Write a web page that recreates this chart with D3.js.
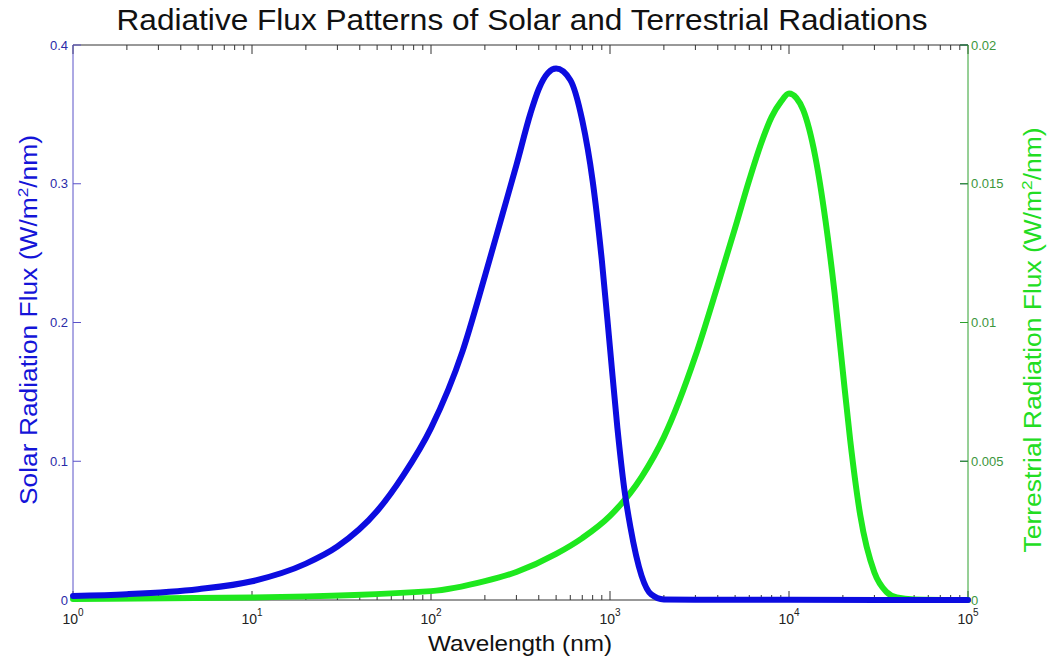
<!DOCTYPE html>
<html>
<head>
<meta charset="utf-8">
<script src="https://cdn.jsdelivr.net/npm/d3@7"></script>
<style>
  html, body { margin: 0; padding: 0; background: #fff; }
  svg { display: block; font-family: "Liberation Sans", Arial, sans-serif; }
</style>
</head>
<body>
<svg id="chart" width="1055" height="659"></svg>
<script>
// Solar spectrum: wavelength (nm) and flux (W/m^2/nm), left axis
const solarWavelength = [1, 2, 5, 10, 20, 30, 50, 70, 100, 150, 200, 250, 300, 360, 400, 450, 500, 600, 700, 800, 900, 1000, 1100, 1200, 1300, 1500, 1700, 2000, 3000, 10000, 100000];
const solarFlux = [0.0029, 0.0042, 0.0078, 0.0135, 0.0262, 0.0385, 0.0641, 0.0898, 0.1239, 0.1792, 0.2334, 0.2774, 0.3134, 0.351, 0.3683, 0.3798, 0.383, 0.3748, 0.3456, 0.302, 0.245, 0.1816, 0.124, 0.0807, 0.0526, 0.0176, 0.004, 0.0004, 0.0002, 0.0001, 0];

// Terrestrial spectrum: wavelength (nm) and flux (W/m^2/nm), right axis
const terrWavelength = [1, 10, 100, 200, 300, 500, 700, 1000, 1500, 2000, 3000, 4000, 5000, 6000, 7000, 8000, 9000, 10000, 11000, 12000, 14000, 16000, 18000, 20000, 22000, 25000, 30000, 35000, 40000, 50000, 100000];
const terrFlux = [0.00004, 0.00009, 0.00032, 0.00068, 0.00101, 0.00166, 0.00223, 0.00303, 0.00443, 0.00587, 0.00879, 0.01135, 0.01341, 0.01514, 0.01647, 0.01741, 0.01795, 0.01825, 0.01809, 0.01766, 0.0160, 0.01366, 0.01103, 0.00822, 0.00573, 0.00306, 0.00099, 0.00029, 0.00009, 0.00002, 0];

// Axis ticks
const xDecades = [0, 1, 2, 3, 4, 5];
const leftTicks = [0, 0.1, 0.2, 0.3, 0.4];
const leftTickLabels = ["0", "0.1", "0.2", "0.3", "0.4"];
const rightTicks = [0, 0.005, 0.01, 0.015, 0.02];
const rightTickLabels = ["0", "0.005", "0.01", "0.015", "0.02"];

const titleText = "Radiative Flux Patterns of Solar and Terrestrial Radiations";
const xLabelText = "Wavelength (nm)";

const svg = d3.select("#chart");
const m = { left: 73, right: 968, top: 45, bottom: 600 };

const x = d3.scaleLog().domain([1, 1e5]).range([m.left, m.right]);
const yL = d3.scaleLinear().domain([0, 0.4]).range([m.bottom, m.top]);
const yR = d3.scaleLinear().domain([0, 0.02]).range([m.bottom, m.top]);

const leftCol = "#2a2aa8";
const leftLine = "#5a52c8";
const rightCol = "#3c963c";
const rightLine = "#2ea02e";
const boxCol = "#333";

// Minor ticks (2..9 per decade)
const minor = [];
for (let d = 0; d < 5; d++) for (let k = 2; k <= 9; k++) minor.push(k * Math.pow(10, d));

const g = svg.append("g");

// Top and bottom box lines
g.append("line").attr("x1", m.left).attr("x2", m.right).attr("y1", m.top).attr("y2", m.top).attr("stroke", boxCol);
g.append("line").attr("x1", m.left).attr("x2", m.right).attr("y1", m.bottom).attr("y2", m.bottom).attr("stroke", boxCol);

// x ticks (bottom and top, pointing inward)
[m.bottom, m.top].forEach(yy => {
  const dir = yy === m.bottom ? -1 : 1;
  g.selectAll(null).data(xDecades).enter().append("line")
    .attr("x1", d => x(Math.pow(10, d))).attr("x2", d => x(Math.pow(10, d)))
    .attr("y1", yy).attr("y2", yy + dir * 9).attr("stroke", boxCol);
  g.selectAll(null).data(minor).enter().append("line")
    .attr("x1", d => x(d)).attr("x2", d => x(d))
    .attr("y1", yy).attr("y2", yy + dir * 5).attr("stroke", boxCol);
});

// x tick labels 10^n
const xl = g.selectAll(null).data(xDecades).enter().append("text")
  .attr("x", d => x(Math.pow(10, d))).attr("y", 624)
  .attr("text-anchor", "middle").attr("font-size", 14).attr("fill", "#222");
xl.append("tspan").text("10");
xl.append("tspan").attr("dy", -8).attr("font-size", 10).text(d => d);

// Left axis
g.append("line").attr("x1", m.left).attr("x2", m.left).attr("y1", m.top).attr("y2", m.bottom).attr("stroke", leftLine);
g.selectAll(null).data(leftTicks).enter().append("line")
  .attr("x1", m.left).attr("x2", m.left + 8).attr("y1", d => yL(d)).attr("y2", d => yL(d)).attr("stroke", leftLine);
g.selectAll(null).data(leftTicks).enter().append("line")
  .attr("x1", m.right).attr("x2", m.right - 8).attr("y1", d => yL(d)).attr("y2", d => yL(d)).attr("stroke", "#1a1a70");
g.selectAll(null).data(leftTicks).enter().append("text")
  .attr("x", m.left - 5).attr("y", d => yL(d)).attr("dy", "0.35em")
  .attr("text-anchor", "end").attr("font-size", 13).attr("fill", leftCol)
  .text((d, i) => leftTickLabels[i]);

// Right axis
g.append("line").attr("x1", m.right).attr("x2", m.right).attr("y1", m.top).attr("y2", m.bottom).attr("stroke", rightLine);
g.selectAll(null).data(rightTicks).enter().append("line")
  .attr("x1", m.right).attr("x2", m.right - 8).attr("y1", d => yR(d)).attr("y2", d => yR(d)).attr("stroke", rightLine);
g.selectAll(null).data(rightTicks).enter().append("text")
  .attr("x", m.right + 3).attr("y", d => yR(d)).attr("dy", "0.35em")
  .attr("text-anchor", "start").attr("font-size", 13).attr("fill", rightCol)
  .text((d, i) => rightTickLabels[i]);

// Curves
const solarPts = solarWavelength.map((w, i) => [w, solarFlux[i]]);
const terrPts = terrWavelength.map((w, i) => [w, terrFlux[i]]);

g.append("path").datum(terrPts)
  .attr("fill", "none").attr("stroke", "#1ee81e").attr("stroke-width", 6)
  .attr("stroke-linejoin", "round").attr("stroke-linecap", "round")
  .attr("d", d3.line().x(d => x(d[0])).y(d => yR(d[1])).curve(d3.curveMonotoneX));

g.append("path").datum(solarPts)
  .attr("fill", "none").attr("stroke", "#0c0ce0").attr("stroke-width", 6)
  .attr("stroke-linejoin", "round").attr("stroke-linecap", "round")
  .attr("d", d3.line().x(d => x(d[0])).y(d => yL(d[1])).curve(d3.curveMonotoneX));

// Title and axis labels
svg.append("text").attr("x", 522).attr("y", 30).attr("text-anchor", "middle")
  .attr("font-size", 29).attr("textLength", 811).attr("lengthAdjust", "spacingAndGlyphs")
  .attr("fill", "#111").text(titleText);

svg.append("text").attr("x", 520).attr("y", 651).attr("text-anchor", "middle")
  .attr("font-size", 22).attr("textLength", 184).attr("lengthAdjust", "spacingAndGlyphs")
  .attr("fill", "#111").text(xLabelText);

const ylab = svg.append("text")
  .attr("transform", "translate(37,320) rotate(-90)")
  .attr("text-anchor", "middle").attr("font-size", 23).attr("fill", "#1414d8")
  .attr("textLength", 370).attr("lengthAdjust", "spacingAndGlyphs");
ylab.append("tspan").text("Solar Radiation Flux (W/m");
ylab.append("tspan").attr("dy", -9).attr("font-size", 15).text("2");
ylab.append("tspan").attr("dy", 9).text("/nm)");

const yrlab = svg.append("text")
  .attr("transform", "translate(1041,340) rotate(-90)")
  .attr("text-anchor", "middle").attr("font-size", 23).attr("fill", "#22dd22")
  .attr("textLength", 425).attr("lengthAdjust", "spacingAndGlyphs");
yrlab.append("tspan").text("Terrestrial Radiation Flux (W/m");
yrlab.append("tspan").attr("dy", -9).attr("font-size", 15).text("2");
yrlab.append("tspan").attr("dy", 9).text("/nm)");
</script>
</body>
</html>
